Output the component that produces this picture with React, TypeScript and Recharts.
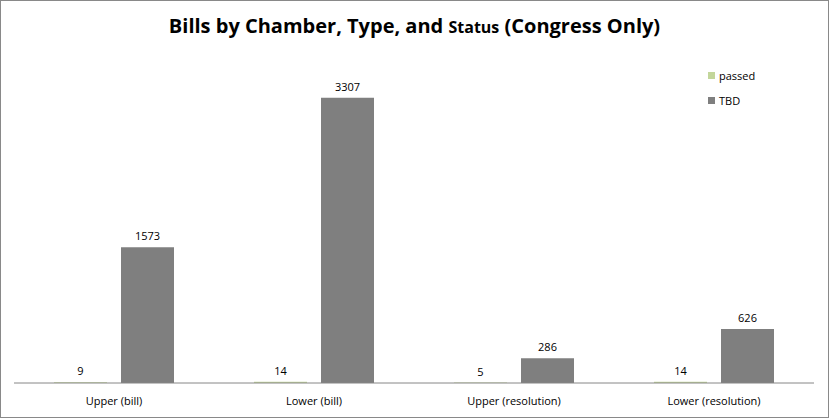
import { BarChart, Bar, XAxis, YAxis, LabelList } from 'recharts';

const categories = ['Upper (bill)', 'Lower (bill)', 'Upper (resolution)', 'Lower (resolution)'];
const passed = [9, 14, 5, 14];
const tbd = [1573, 3307, 286, 626];

const data = categories.map((name, i) => ({ name, passed: passed[i], TBD: tbd[i] }));

const font = '"Open Sans", sans-serif';

function LegendBox() {
  const items = [
    { label: 'passed', color: '#c3d69b' },
    { label: 'TBD', color: '#7f7f7f' },
  ];
  return (
    <div style={{ position: 'absolute', left: 707, top: 62, fontFamily: font, fontSize: 11, color: '#000' }}>
      {items.map(it => (
        <div key={it.label} style={{ display: 'flex', alignItems: 'center', height: 25 }}>
          <span style={{ width: 7, height: 7, background: it.color, marginRight: 4 }} />
          <span>{it.label}</span>
        </div>
      ))}
    </div>
  );
}

export default function App() {
  return (
    <div style={{ position: 'absolute', left: 0, top: 0, width: 829, height: 418, border: '1px solid #898989', boxSizing: 'border-box', background: '#fff' }}>
      <div style={{ position: 'absolute', left: 0, right: 0, top: 11, textAlign: 'center', fontFamily: font, fontWeight: 700, fontSize: 20, color: '#000', letterSpacing: 0 }}>
        Bills by Chamber, Type, and <span style={{ fontSize: 16 }}>Status</span> (Congress Only)
      </div>
      <div style={{ position: 'absolute', left: -1, top: -1 }}>
        <BarChart width={829} height={418} data={data} margin={{ top: 81, right: 15, left: 14, bottom: 0 }} barCategoryGap={40} barGap={14}>
          <XAxis dataKey="name" height={35} tickLine={false} axisLine={{ stroke: '#868686' }} tickMargin={8}
            tick={{ fontFamily: font, fontSize: 11, fill: '#000' }} />
          <YAxis hide domain={[0, 3500]} />
          <Bar dataKey="passed" fill="#c3d69b" barSize={53} isAnimationActive={false}>
            <LabelList dataKey="passed" position="top" offset={7} style={{ fontFamily: font, fontSize: 11, fill: '#000' }} />
          </Bar>
          <Bar dataKey="TBD" fill="#7f7f7f" barSize={53} isAnimationActive={false}>
            <LabelList dataKey="TBD" position="top" offset={7} style={{ fontFamily: font, fontSize: 11, fill: '#000' }} />
          </Bar>
        </BarChart>
      </div>
      <LegendBox />
    </div>
  );
}
